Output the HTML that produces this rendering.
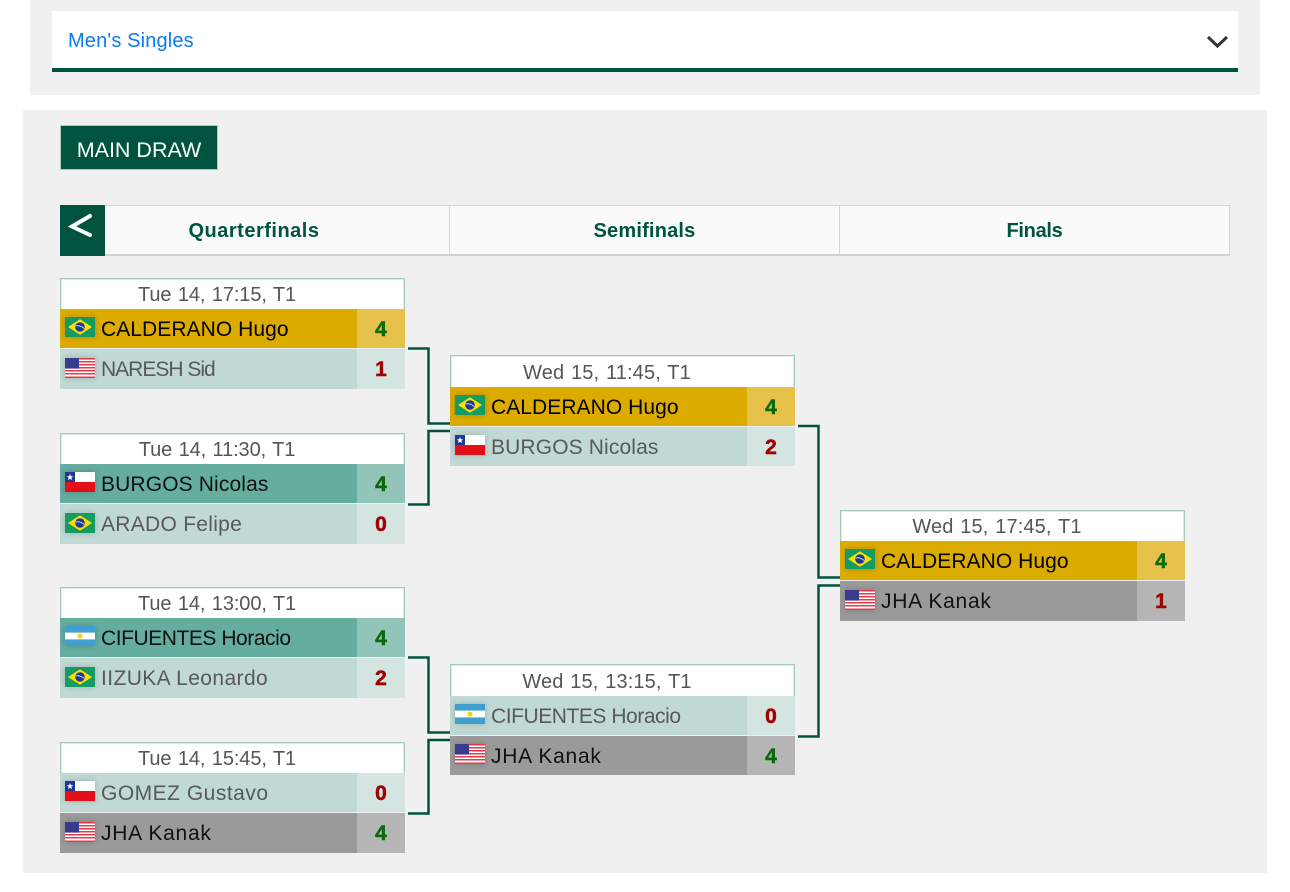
<!DOCTYPE html>
<html><head><meta charset="utf-8"><style>
html,body{margin:0;padding:0;background:#fff;width:1290px;height:892px;overflow:hidden;font-family:"Liberation Sans",sans-serif}
div{position:absolute;box-sizing:border-box}
svg{position:absolute}
.m{width:345px;height:111px}
.h{left:0;top:0;width:345px;height:32px;background:#fff;border:1px solid #a5c8c0;border-bottom:0;box-shadow:inset 1px 1px 0 #dcebe8,inset -1px 0 0 #dcebe8;color:#555;font-size:20px;line-height:33px;text-align:center;padding-right:31px;word-spacing:1px;letter-spacing:-.1px}
.r{left:0;width:297px;height:39px;font-size:21px;line-height:41px;padding-left:41px;white-space:nowrap}
.s{left:297px;width:48px;height:39px;font-size:21px;font-weight:bold;line-height:41px;text-align:center;-webkit-text-stroke:.5px currentColor}
.a{top:31px}.b{top:71px;height:40px}
.sf .h{line-height:35px;letter-spacing:.14px}
.sf .a{top:32px}.sf .b{top:72px;height:39px}
.sf .fa{top:40px}.sf .fb{top:80px}
.w{color:#0b6b0b}.l{color:#a00000}
.g{background:#dcab00;color:#000}.gs{background:#e7c24b}
.t{background:#64ad9f;color:#111}.ts{background:#92c4ba}
.p{background:#c1d9d5;color:#595959}.ps{background:#d3e4e1}
.k{background:#9a9a9a;color:#111}.ks{background:#b5b5b5}
.f{left:5px;width:30px;height:20px;filter:drop-shadow(0 0 3px rgba(0,0,0,.2))}
.fa{top:39px}.fb{top:80px}
.c{background:#00543f}
.tab{top:205px;height:51px;background:#fafafa;border:1px solid #d6d6d6;border-bottom:2px solid #d2d2d2;color:#00543f;font-size:20px;font-weight:bold;line-height:50px;text-align:center}
.n1{letter-spacing:.06px}.n2{letter-spacing:-1px}.n3{letter-spacing:.13px}.n4{letter-spacing:.28px}.n5{letter-spacing:-.45px}.n6{letter-spacing:.4px}.n7{letter-spacing:.5px}.n8{letter-spacing:.75px}
</style></head><body>
<svg width="0" height="0" style="display:none"><defs>
<symbol id="br" viewBox="0 0 30 20"><rect width="30" height="20" fill="#169b62"/><path d="M15 2.300L27 10L15 17.700L3 10Z" fill="#fedf00"/><circle cx="15" cy="10" r="4.800" fill="#1f3a93"/><path d="M10.800 9Q15 8 19.200 11.500" stroke="#fff" fill="none" stroke-width=".7"/></symbol>
<symbol id="us" viewBox="0 0 30 20"><rect width="30" height="20" fill="#fff"/><path d="M0 .8H30M0 3.800H30M0 6.800H30M0 9.800H30M0 12.800H30M0 15.800H30M0 19.200H30" stroke="#e8394a" stroke-width="1.500"/><rect width="14" height="10.600" fill="#3a3a8c"/></symbol>
<symbol id="cl" viewBox="0 0 30 20"><rect width="30" height="10" fill="#fff"/><rect y="10" width="30" height="10" fill="#e3101a"/><rect width="10" height="10" fill="#1f3a93"/><path d="M5 2l.9 2.200 2.300.1-1.800 1.500.6 2.300L5 6.800 3 8.100l.6-2.300-1.800-1.500 2.300-.1z" fill="#fff"/></symbol>
<symbol id="ar" viewBox="0 0 30 20"><rect width="30" height="20" fill="#fff"/><rect width="30" height="6.600" fill="#3f9fd0"/><rect y="13.400" width="30" height="6.600" fill="#3f9fd0"/><circle cx="15" cy="10" r="2.600" fill="#f5d020"/></symbol>
</defs></svg>

<div style="left:30px;top:0;width:1230px;height:95px;background:#f0f0f0"></div>
<div style="left:52px;top:11px;width:1186px;height:57px;background:#fff"></div>
<div class="c" style="left:52px;top:68px;width:1186px;height:4px"></div>
<div style="left:68px;top:29px;color:#0a7cf0;font-size:20px;line-height:24px;letter-spacing:.15px">Men's Singles</div>
<svg style="left:1206px;top:34px" width="24" height="16"><path d="M2 3L11.500 12L21 3" fill="none" stroke="#333" stroke-width="3"/></svg>

<div style="left:23px;top:110px;width:1244px;height:763px;background:#f0f0f0"></div>
<div class="c" style="left:60px;top:125px;width:158px;height:45px;border:1px solid #b5c9c3;color:#fff;font-size:21.500px;line-height:48px;text-align:center">MAIN DRAW</div>

<div class="c" style="left:60px;top:205px;width:45px;height:51px"></div>
<svg style="left:60px;top:205px" width="45" height="51"><path d="M30 11L12 21.500L30 30" fill="none" stroke="#fff" stroke-width="4" stroke-linecap="round"/></svg>
<div class="tab" style="left:105px;width:344px;border-left:0;border-right:0;padding-right:46px;letter-spacing:.5px">Quarterfinals</div>
<div class="tab" style="left:449px;width:390px;border-right:0;letter-spacing:.2px">Semifinals</div>
<div class="tab" style="left:839px;width:391px;letter-spacing:-.3px">Finals</div>

<!-- connectors -->
<svg style="left:0;top:0" width="1290" height="892"><g fill="none" stroke="#00543f" stroke-width="2.500">
<path d="M408 348.500H428.500V423.500H450"/><path d="M450 431H428.500V504.500H408"/>
<path d="M408 657.500H428.500V732.500H450"/><path d="M450 740H428.500V813.500H408"/>
<path d="M798 426H818.500V577.500H840"/><path d="M840 585.500H818.500V736.500H798"/>
</g></svg>

<!-- QF -->
<div class="m" style="left:60px;top:278px"><div class="h">Tue 14, 17:15, T1</div>
<div class="r a g n1">CALDERANO Hugo</div><div class="s a gs w">4</div><svg class="f fa"><use href="#br"/></svg>
<div class="r b p n2">NARESH Sid</div><div class="s b ps l">1</div><svg class="f fb"><use href="#us"/></svg></div>

<div class="m" style="left:60px;top:433px"><div class="h">Tue 14, 11:30, T1</div>
<div class="r a t n3">BURGOS Nicolas</div><div class="s a ts w">4</div><svg class="f fa"><use href="#cl"/></svg>
<div class="r b p n4">ARADO Felipe</div><div class="s b ps l">0</div><svg class="f fb"><use href="#br"/></svg></div>

<div class="m" style="left:60px;top:587px"><div class="h">Tue 14, 13:00, T1</div>
<div class="r a t n5">CIFUENTES Horacio</div><div class="s a ts w">4</div><svg class="f fa"><use href="#ar"/></svg>
<div class="r b p n6">IIZUKA Leonardo</div><div class="s b ps l">2</div><svg class="f fb"><use href="#br"/></svg></div>

<div class="m" style="left:60px;top:742px"><div class="h">Tue 14, 15:45, T1</div>
<div class="r a p n7">GOMEZ Gustavo</div><div class="s a ps l">0</div><svg class="f fa"><use href="#cl"/></svg>
<div class="r b k n8">JHA Kanak</div><div class="s b ks w">4</div><svg class="f fb"><use href="#us"/></svg></div>

<!-- SF -->
<div class="m sf" style="left:450px;top:355px"><div class="h">Wed 15, 11:45, T1</div>
<div class="r a g n1">CALDERANO Hugo</div><div class="s a gs w">4</div><svg class="f fa"><use href="#br"/></svg>
<div class="r b p n3">BURGOS Nicolas</div><div class="s b ps l">2</div><svg class="f fb"><use href="#cl"/></svg></div>

<div class="m sf" style="left:450px;top:664px"><div class="h">Wed 15, 13:15, T1</div>
<div class="r a p n5">CIFUENTES Horacio</div><div class="s a ps l">0</div><svg class="f fa"><use href="#ar"/></svg>
<div class="r b k n8">JHA Kanak</div><div class="s b ks w">4</div><svg class="f fb"><use href="#us"/></svg></div>

<!-- Final -->
<div class="m sf" style="left:840px;top:510px"><div class="h" style="line-height:33px">Wed 15, 17:45, T1</div>
<div class="r a g n1" style="top:31px">CALDERANO Hugo</div><div class="s a gs w" style="top:31px">4</div><svg class="f fa" style="top:39px"><use href="#br"/></svg>
<div class="r b k n8" style="top:71px;height:40px">JHA Kanak</div><div class="s b ks l" style="top:71px;height:40px">1</div><svg class="f fb"><use href="#us"/></svg></div>
</body></html>
